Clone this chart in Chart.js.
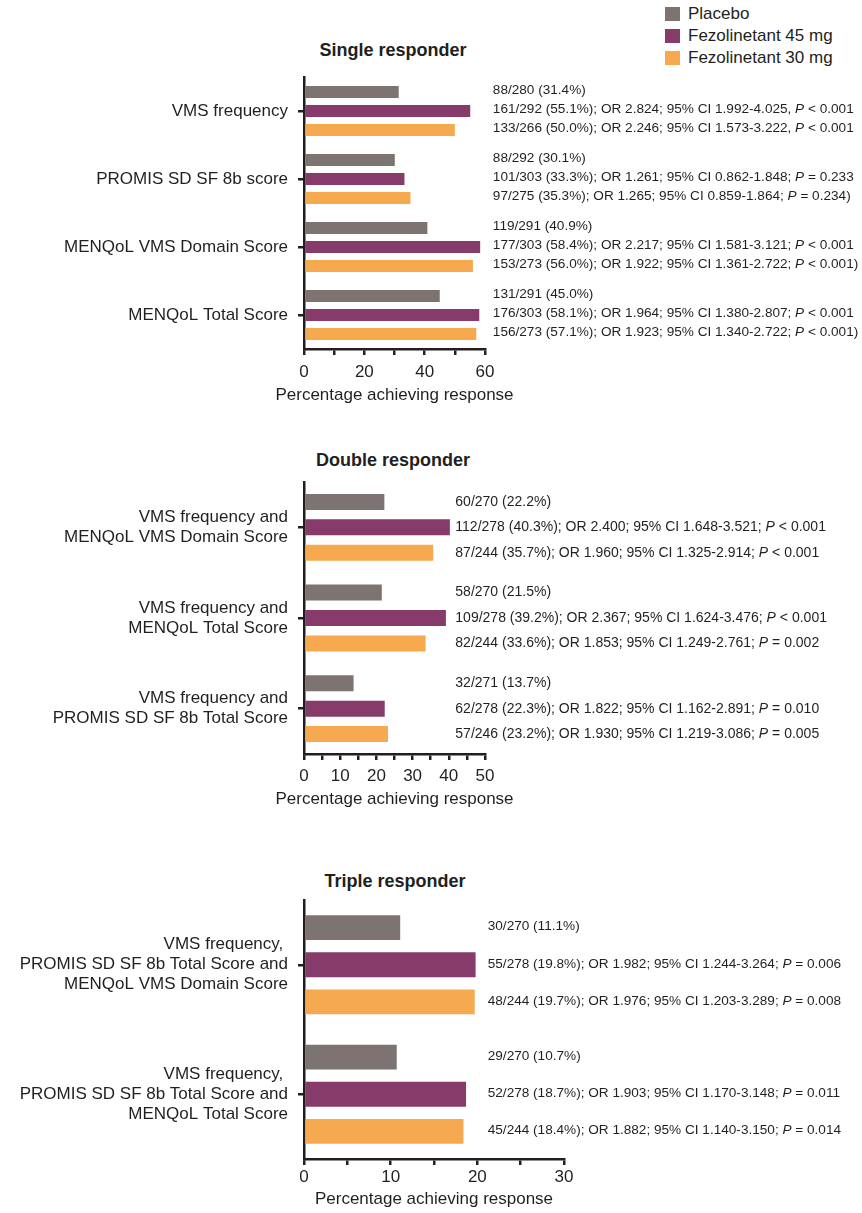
<!DOCTYPE html>
<html>
<head>
<meta charset="utf-8">
<script src="https://cdn.jsdelivr.net/npm/chart.js@4/dist/chart.umd.min.js"></script>
<style>
  body { margin: 0; background: #fff; }
  #page { position: relative; width: 862px; height: 1213px; font-family: 'Liberation Sans', Arial, Helvetica, sans-serif; color: #231f20; }
  .panel { position: absolute; left: 0; width: 862px; }
  .ptitle { position: absolute; width: 300px; margin-left: -150px; text-align: center; font-weight: bold; font-size: 18px; line-height: 20px; }
  #legend { position: absolute; left: 665px; top: 3px; }
  #legend div { height: 22px; line-height: 22px; font-size: 17px; white-space: nowrap; }
  #legend span { display: inline-block; width: 15px; height: 14px; margin-right: 8px; vertical-align: -2px; }
</style>
</head>
<body>
<div id="page">
  <div id="legend"></div>
  <div class="ptitle" style="left:393px; top:40px;">Single responder</div>
  <div class="ptitle" style="left:393px; top:450px;">Double responder</div>
  <div class="ptitle" style="left:395px; top:871px;">Triple responder</div>
  <div class="panel" id="p1"><canvas id="chart1"></canvas></div>
  <div class="panel" id="p2"><canvas id="chart2"></canvas></div>
  <div class="panel" id="p3"><canvas id="chart3"></canvas></div>
</div>
<script>
const seriesNames = ['Placebo', 'Fezolinetant 45 mg', 'Fezolinetant 30 mg'];
const seriesColors = ['#7d7472', '#873b6a', '#f7a94f'];
const textColor = '#231f20';
const axisTitle = 'Percentage achieving response';

// Single responder
const singleLabels = ['VMS frequency', 'PROMIS SD SF 8b score', 'MENQoL VMS Domain Score', 'MENQoL Total Score'];
const singlePlacebo = [31.4, 30.1, 40.9, 45.0];
const single45 = [55.1, 33.3, 58.4, 58.1];
const single30 = [50.0, 35.3, 56.0, 57.1];
const singleNotesPlacebo = ['88/280 (31.4%)', '88/292 (30.1%)', '119/291 (40.9%)', '131/291 (45.0%)'];
const singleNotes45 = [
  '161/292 (55.1%); OR 2.824; 95% CI 1.992-4.025, P < 0.001',
  '101/303 (33.3%); OR 1.261; 95% CI 0.862-1.848; P = 0.233',
  '177/303 (58.4%); OR 2.217; 95% CI 1.581-3.121; P < 0.001',
  '176/303 (58.1%); OR 1.964; 95% CI 1.380-2.807; P < 0.001'
];
const singleNotes30 = [
  '133/266 (50.0%); OR 2.246; 95% CI 1.573-3.222, P < 0.001',
  '97/275 (35.3%); OR 1.265; 95% CI 0.859-1.864; P = 0.234)',
  '153/273 (56.0%); OR 1.922; 95% CI 1.361-2.722; P < 0.001)',
  '156/273 (57.1%); OR 1.923; 95% CI 1.340-2.722; P < 0.001)'
];

// Double responder
const doubleLabels = [
  ['VMS frequency and', 'MENQoL VMS Domain Score'],
  ['VMS frequency and', 'MENQoL Total Score'],
  ['VMS frequency and', 'PROMIS SD SF 8b Total Score']
];
const doublePlacebo = [22.2, 21.5, 13.7];
const double45 = [40.3, 39.2, 22.3];
const double30 = [35.7, 33.6, 23.2];
const doubleNotesPlacebo = ['60/270 (22.2%)', '58/270 (21.5%)', '32/271 (13.7%)'];
const doubleNotes45 = [
  '112/278 (40.3%); OR 2.400; 95% CI 1.648-3.521; P < 0.001',
  '109/278 (39.2%); OR 2.367; 95% CI 1.624-3.476; P < 0.001',
  '62/278 (22.3%); OR 1.822; 95% CI 1.162-2.891; P = 0.010'
];
const doubleNotes30 = [
  '87/244 (35.7%); OR 1.960; 95% CI 1.325-2.914; P < 0.001',
  '82/244 (33.6%); OR 1.853; 95% CI 1.249-2.761; P = 0.002',
  '57/246 (23.2%); OR 1.930; 95% CI 1.219-3.086; P = 0.005'
];

// Triple responder
const tripleLabels = [
  ['VMS frequency, ', 'PROMIS SD SF 8b Total Score and', 'MENQoL VMS Domain Score'],
  ['VMS frequency, ', 'PROMIS SD SF 8b Total Score and', 'MENQoL Total Score']
];
const triplePlacebo = [11.1, 10.7];
const triple45 = [19.8, 18.7];
const triple30 = [19.7, 18.4];
const tripleNotesPlacebo = ['30/270 (11.1%)', '29/270 (10.7%)'];
const tripleNotes45 = [
  '55/278 (19.8%); OR 1.982; 95% CI 1.244-3.264; P = 0.006',
  '52/278 (18.7%); OR 1.903; 95% CI 1.170-3.148; P = 0.011'
];
const tripleNotes30 = [
  '48/244 (19.7%); OR 1.976; 95% CI 1.203-3.289; P = 0.008',
  '45/244 (18.4%); OR 1.882; 95% CI 1.140-3.150; P = 0.014'
];

const fontFamily = "'Liberation Sans', Arial, Helvetica, sans-serif";
Chart.defaults.font.family = fontFamily;
Chart.defaults.color = textColor;

// legend
const legendEl = document.getElementById('legend');
seriesNames.forEach((name, i) => {
  const row = document.createElement('div');
  row.innerHTML = '<span style="background:' + seriesColors[i] + '"></span>' + name;
  legendEl.appendChild(row);
});

function drawNote(ctx, txt, x, y, size) {
  const m = txt.match(/^(.*?)P( [<=].*)$/);
  const plain = size + 'px ' + fontFamily;
  ctx.font = plain;
  if (!m) { ctx.fillText(txt, x, y); return; }
  ctx.fillText(m[1], x, y);
  let cx = x + ctx.measureText(m[1]).width;
  ctx.font = 'italic ' + plain;
  ctx.fillText('P', cx, y);
  cx += ctx.measureText('P').width;
  ctx.font = plain;
  ctx.fillText(m[2], cx, y);
}

// OR / CI annotations next to each bar, plus the x-axis title (drawn without squeezing)
const notesPlugin = {
  id: 'notes',
  afterDatasetsDraw(chart, args, opts) {
    const ctx = chart.ctx;
    const xs = chart.scales.x;
    const x = xs.getPixelForValue(opts.at);
    ctx.save();
    ctx.fillStyle = textColor;
    ctx.textAlign = 'left';
    ctx.textBaseline = 'middle';
    opts.notes.forEach((rows, di) => {
      const meta = chart.getDatasetMeta(di);
      rows.forEach((txt, j) => drawNote(ctx, txt, x, meta.data[j].y + opts.shift, opts.size));
    });
    ctx.font = '17px ' + fontFamily;
    ctx.textAlign = 'center';
    ctx.fillText(axisTitle, (xs.left + xs.right) / 2, xs.bottom - 10);
    ctx.restore();
  }
};

function makeChart(id, wrapId, cfg) {
  const wrap = document.getElementById(wrapId);
  wrap.style.top = cfg.top + 'px';
  wrap.style.height = cfg.height + 'px';
  const values = [cfg.placebo, cfg.f45, cfg.f30];
  return new Chart(document.getElementById(id), {
    type: 'bar',
    data: {
      labels: cfg.labels,
      datasets: values.map((v, i) => ({
        label: seriesNames[i],
        data: v,
        backgroundColor: seriesColors[i],
        borderWidth: 0,
        categoryPercentage: cfg.catPct,
        barPercentage: cfg.barPct
      }))
    },
    options: {
      indexAxis: 'y',
      responsive: true,
      maintainAspectRatio: false,
      animation: false,
      layout: { padding: { top: cfg.padTop, bottom: cfg.padBottom, left: 0, right: 862 - cfg.right } },
      plugins: {
        legend: { display: false },
        tooltip: { enabled: false },
        notes: { at: cfg.noteAt, notes: cfg.notes, size: cfg.noteSize, shift: cfg.noteShift }
      },
      scales: {
        y: {
          z: 1,
          afterFit(scale) {
            scale.width = 304;
            scale.paddingTop = 0;
            scale.paddingBottom = 0;
          },
          grid: { offset: false, drawOnChartArea: false, drawTicks: true, tickLength: 6, lineWidth: 2.5, color: textColor },
          border: { display: true, width: 2.5, color: textColor },
          ticks: { autoSkip: false, padding: 10, font: { size: 17, lineHeight: 1.18 }, color: textColor }
        },
        x: {
          z: 1,
          min: 0,
          max: cfg.max,
          afterFit(scale) { scale.height = cfg.axisH; },
          grid: { drawOnChartArea: false, drawTicks: true, tickLength: 6, lineWidth: 2.5, color: textColor },
          border: { display: true, width: 2.5, color: textColor },
          ticks: {
            stepSize: cfg.step,
            autoSkip: false,
            maxRotation: 0,
            padding: cfg.tickPad,
            font: { size: 17 },
            color: textColor,
            callback: v => (v % cfg.labelEvery === 0 ? v : '')
          }
        }
      }
    },
    plugins: [notesPlugin]
  });
}

makeChart('chart1', 'p1', {
  top: 60, height: 350, padTop: 17, padBottom: 5, axisH: 56, tickPad: 7, right: 485,
  max: 60, step: 10, labelEvery: 20, catPct: 0.84, barPct: 0.63,
  noteAt: 62.6, noteSize: 13.6, noteShift: -2,
  labels: singleLabels, placebo: singlePlacebo, f45: single45, f30: single30,
  notes: [singleNotesPlacebo, singleNotes45, singleNotes30]
});

makeChart('chart2', 'p2', {
  top: 470, height: 340, padTop: 12, padBottom: 1, axisH: 55, tickPad: 6, right: 485,
  max: 50, step: 5, labelEvery: 10, catPct: 0.84, barPct: 0.63,
  noteAt: 41.8, noteSize: 14, noteShift: 0,
  labels: doubleLabels, placebo: doublePlacebo, f45: double45, f30: double30,
  notes: [doubleNotesPlacebo, doubleNotes45, doubleNotes30]
});

makeChart('chart3', 'p3', {
  top: 890, height: 323, padTop: 10, padBottom: 4, axisH: 50, tickPad: 2, right: 564,
  max: 30, step: 5, labelEvery: 10, catPct: 0.86, barPct: 0.67,
  noteAt: 21.2, noteSize: 13.6, noteShift: -1,
  labels: tripleLabels, placebo: triplePlacebo, f45: triple45, f30: triple30,
  notes: [tripleNotesPlacebo, tripleNotes45, tripleNotes30]
});
</script>
</body>
</html>
